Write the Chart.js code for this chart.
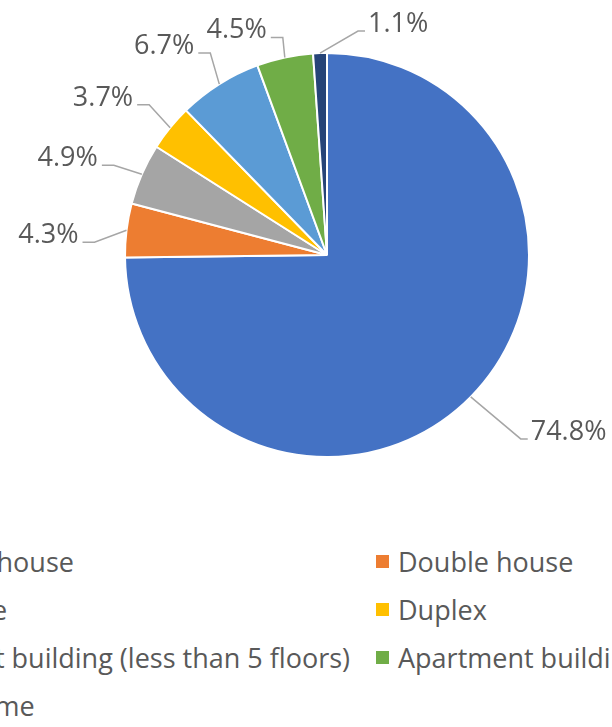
<!DOCTYPE html>
<html>
<head>
<meta charset="utf-8">
<script src="https://cdn.jsdelivr.net/npm/chart.js@4.4.1/dist/chart.umd.min.js"></script>
<style>
  html, body { margin: 0; padding: 0; background: #fff; overflow: hidden; }
  #wrap { position: relative; width: 612px; height: 727px; overflow: hidden; font-family: "Open Sans", sans-serif; color: #595959; }
  #pie { position: absolute; left: 0; top: 0; }
  .col { position: absolute; top: 537px; width: max-content; white-space: nowrap; }
  .item { height: 48px; font-size: 27px; display: flex; align-items: center; }
  .sw { width: 13px; height: 13px; margin-right: 9px; flex: none; }
</style>
</head>
<body>
<div id="wrap">
  <canvas id="pie" width="612" height="520"></canvas>
  <div class="col" id="legendLeft" style="right:262px"></div>
  <div class="col" id="legendRight" style="left:376px"></div>
</div>
<script>
const housingTypes = [
  "Detached house",
  "Double house",
  "Row house",
  "Duplex",
  "Apartment building (less than 5 floors)",
  "Apartment building (5 floors or more)",
  "Mobile home"
];
const shares = [74.8, 4.3, 4.9, 3.7, 6.7, 4.5, 1.1];
const sliceColors = ["#4472C4", "#ED7D31", "#A5A5A5", "#FFC000", "#5B9BD5", "#70AD47", "#264478"];

// label elbow offsets from each slice's outer edge midpoint
const labelShift = [[50, 42], [-32, 12], [-28, -9], [-21, -23], [-9, -31], [-2, -20], [38, -22]];

const leaderLabels = {
  id: "leaderLabels",
  afterDatasetsDraw(chart) {
    const ctx = chart.ctx;
    const meta = chart.getDatasetMeta(0);
    ctx.save();
    ctx.font = "27px 'Open Sans', sans-serif";
    ctx.textBaseline = "alphabetic";
    meta.data.forEach((arc, i) => {
      const p = arc.getProps(["x", "y", "startAngle", "endAngle", "outerRadius"], true);
      const mid = (p.startAngle + p.endAngle) / 2;
      const ax = p.x + Math.cos(mid) * p.outerRadius;
      const ay = p.y + Math.sin(mid) * p.outerRadius;
      const ex = ax + labelShift[i][0];
      const ey = ay + labelShift[i][1];
      const right = labelShift[i][0] >= 0;
      const dir = right ? 1 : -1;
      const seg = right ? 7 : 12;
      const gap = right ? 10 : 16;

      ctx.strokeStyle = "#A6A6A6";
      ctx.lineWidth = 1.5;
      ctx.beginPath();
      ctx.moveTo(ax, ay);
      ctx.lineTo(ex, ey);
      ctx.lineTo(ex + dir * seg, ey);
      ctx.stroke();

      ctx.fillStyle = "#595959";
      ctx.textAlign = right ? "left" : "right";
      ctx.fillText(shares[i].toFixed(1) + "%", ex + dir * gap, ey + 1);
    });
    ctx.restore();
  }
};

new Chart(document.getElementById("pie"), {
  type: "pie",
  data: {
    labels: housingTypes,
    datasets: [{
      data: shares,
      backgroundColor: sliceColors,
      borderColor: "#ffffff",
      borderWidth: 2
    }]
  },
  options: {
    responsive: false,
    animation: false,
    events: [],
    layout: { padding: { left: 124, right: 82, top: 52, bottom: 62 } },
    plugins: {
      legend: { display: false },
      tooltip: { enabled: false }
    }
  },
  plugins: [leaderLabels]
});

function buildLegend() {
  const left = document.getElementById("legendLeft");
  const right = document.getElementById("legendRight");
  housingTypes.forEach((name, i) => {
    const row = document.createElement("div");
    row.className = "item";
    row.innerHTML = `<span class="sw" style="background:${sliceColors[i]}"></span><span>${name}</span>`;
    (i % 2 === 0 ? left : right).appendChild(row);
  });
}

buildLegend();
</script>
</body>
</html>
